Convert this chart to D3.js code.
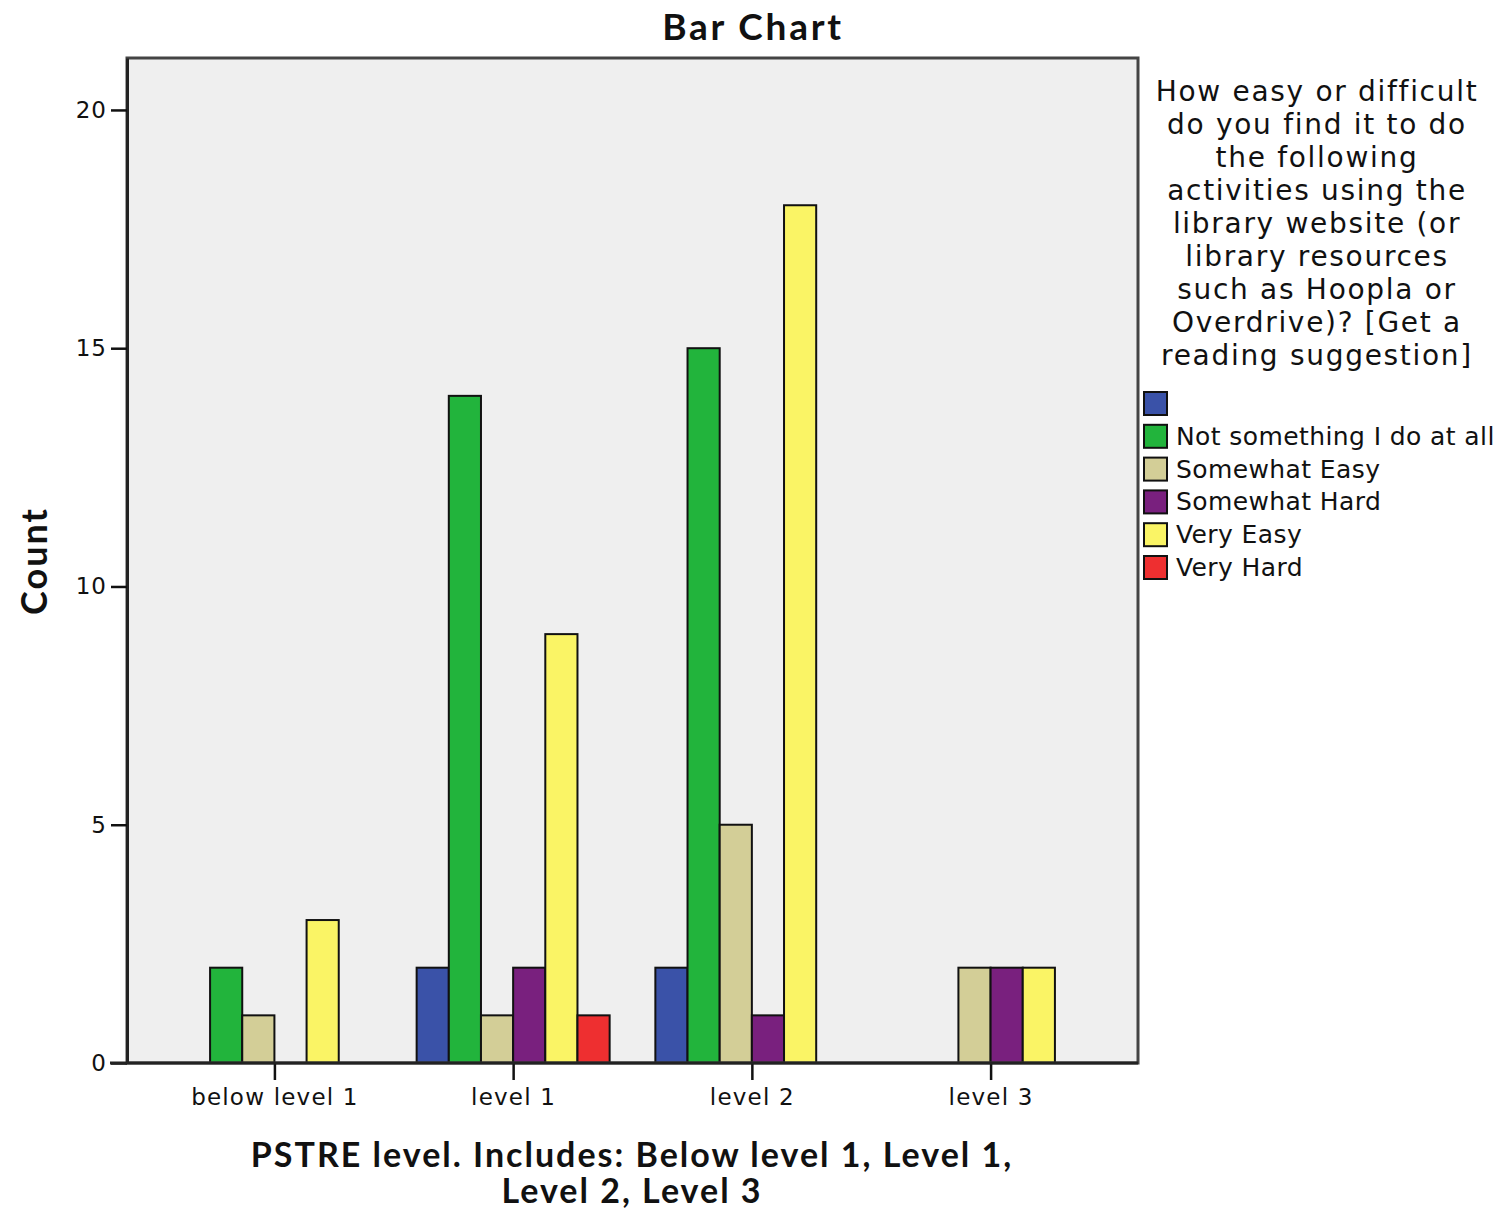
<!DOCTYPE html>
<html>
<head>
<meta charset="utf-8">
<script src="https://cdn.jsdelivr.net/npm/d3@7"></script>
<style>
  body { margin: 0; background: #fff; }
  text { font-family: "DejaVu Sans", sans-serif; fill: #111; }
  .bold { font-family: Lato, "DejaVu Sans", sans-serif; font-weight: bold; }
</style>
</head>
<body>
<svg id="chart"></svg>
<script>
const categories = ["below level 1", "level 1", "level 2", "level 3"];
const seriesNames = ["", "Not something I do at all", "Somewhat Easy", "Somewhat Hard", "Very Easy", "Very Hard"];
const seriesColors = ["#3a52a8", "#22b43c", "#d3ce97", "#79207e", "#faf465", "#ee2f30"];
// counts per category, in series order
const blank        = [0, 2, 2, 0];
const notSomething = [2, 14, 15, 0];
const somewhatEasy = [1, 1, 5, 2];
const somewhatHard = [0, 2, 1, 2];
const veryEasy     = [3, 9, 18, 2];
const veryHard     = [0, 1, 0, 0];
const seriesValues = [blank, notSomething, somewhatEasy, somewhatHard, veryEasy, veryHard];
const yTicks = [0, 5, 10, 15, 20];
const legendTitle = ["How easy or difficult", "do you find it to do", "the following",
    "activities using the", "library website (or", "library resources",
    "such as Hoopla or", "Overdrive)? [Get a", "reading suggestion]"];

const config = {
    width: 1501,
    height: 1210,
    margin: {top:58, right:363, bottom:147, left:127}
};

const svg = d3.select('#chart')
    .attr('width', config.width)
    .attr('height', config.height);

const inner_width = config.width - config.margin.left - config.margin.right;
const inner_height = config.height - config.margin.top - config.margin.bottom;

const chart = svg.append('g')
    .attr('transform', `translate(${config.margin.left}, ${config.margin.top})`);

// scales
const xscale = d3.scalePoint()
    .domain(categories)
    .range([0, inner_width])
    .padding(0.6175);

const clusterWidth = 193;
const xinner = d3.scaleBand()
    .domain(d3.range(seriesNames.length))
    .range([-clusterWidth/2, clusterWidth/2]);

const yscale = d3.scaleLinear()
    .domain([0, 21.09])
    .range([inner_height, 0]);

// background
chart.append('rect')
    .attr('width', inner_width)
    .attr('height', inner_height)
    .attr('fill', '#efefef');

// bars
const rows = [];
categories.forEach((c, ci) => {
    seriesValues.forEach((vals, si) => {
        if (vals[ci] > 0) rows.push({cat: c, s: si, v: vals[ci]});
    });
});

chart.append('g').selectAll('rect')
    .data(rows)
    .join('rect')
    .attr('x', d => xscale(d.cat) + xinner(d.s))
    .attr('y', d => yscale(d.v))
    .attr('width', xinner.bandwidth())
    .attr('height', d => yscale(0) - yscale(d.v))
    .attr('fill', d => seriesColors[d.s])
    .attr('stroke', '#111')
    .attr('stroke-width', 2);

// frame (top/right)
chart.append('rect')
    .attr('width', inner_width)
    .attr('height', inner_height)
    .attr('fill', 'none')
    .attr('stroke', '#444')
    .attr('stroke-width', 3);

// axes
const yaxis = d3.axisLeft(yscale)
    .tickValues(yTicks)
    .tickSize(16)
    .tickPadding(4)
    .tickSizeOuter(0);

const yaxis_group = chart.append('g').call(yaxis);
yaxis_group.select('.domain').attr('stroke', '#222').attr('stroke-width', 3);
yaxis_group.selectAll('.tick line').attr('stroke', '#111').attr('stroke-width', 2.5);
yaxis_group.selectAll('.tick text')
    .attr('font-family', '"DejaVu Sans", sans-serif')
    .attr('font-size', 23)
    .attr('letter-spacing', 1)
    .attr('fill', '#222');

const xaxis = d3.axisBottom(xscale)
    .tickSize(17)
    .tickPadding(9)
    .tickSizeOuter(0);

const xaxis_group = chart.append('g')
    .attr('transform', `translate(0, ${inner_height})`)
    .call(xaxis);
xaxis_group.select('.domain').remove();
xaxis_group.append('line')
    .attr('x1', -17).attr('x2', inner_width)
    .attr('stroke', '#222').attr('stroke-width', 3);
xaxis_group.selectAll('.tick line').attr('stroke', '#111').attr('stroke-width', 2.5);
xaxis_group.selectAll('.tick text')
    .attr('font-family', '"DejaVu Sans", sans-serif')
    .attr('font-size', 23)
    .attr('letter-spacing', 1.2)
    .attr('fill', '#222');

// titles
svg.append('text')
    .attr('class', 'bold')
    .attr('x', 753).attr('y', 40)
    .attr('text-anchor', 'middle')
    .attr('font-size', 37)
    .attr('letter-spacing', 2.8)
    .text('Bar Chart');

svg.append('text')
    .attr('class', 'bold')
    .attr('transform', 'translate(47, 561) rotate(-90)')
    .attr('text-anchor', 'middle')
    .attr('font-size', 36)
    .attr('letter-spacing', 2)
    .text('Count');

const xt = svg.append('text')
    .attr('class', 'bold')
    .attr('text-anchor', 'middle')
    .attr('font-size', 34)
    .attr('letter-spacing', 2);
xt.append('tspan').attr('x', 632).attr('y', 1167).text('PSTRE level. Includes: Below level 1, Level 1,');
xt.append('tspan').attr('x', 632).attr('y', 1203).text('Level 2, Level 3');

// legend
const legend = svg.append('g');
legend.append('text')
    .attr('text-anchor', 'middle')
    .attr('font-size', 28)
    .attr('letter-spacing', 1.7)
    .selectAll('tspan')
    .data(legendTitle)
    .join('tspan')
    .attr('x', 1317)
    .attr('y', (d, i) => 101 + i * 33)
    .text(d => d);

const items = legend.selectAll('g.item')
    .data(seriesNames)
    .join('g')
    .attr('class', 'item')
    .attr('transform', (d, i) => `translate(1144, ${392 + i * 32.8})`);
items.append('rect')
    .attr('width', 23).attr('height', 23)
    .attr('fill', (d, i) => seriesColors[i])
    .attr('stroke', '#111').attr('stroke-width', 2);
items.append('text')
    .attr('x', 32).attr('y', 20)
    .attr('font-size', 25)
    .attr('letter-spacing', 0.4)
    .text(d => d);
</script>
</body>
</html>
